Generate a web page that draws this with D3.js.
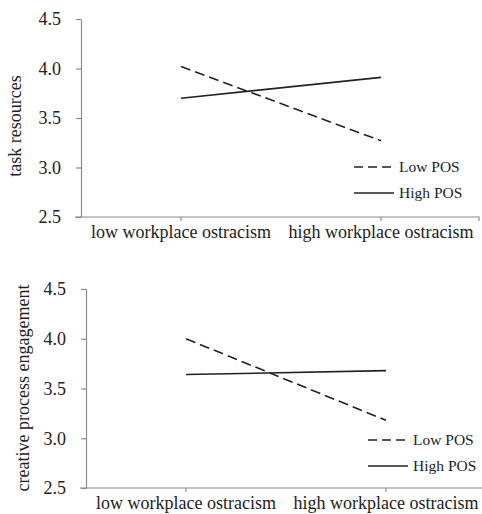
<!DOCTYPE html>
<html>
<head>
<meta charset="utf-8">
<script src="https://cdn.jsdelivr.net/npm/d3@7"></script>
<style>
  body { margin: 0; background: #fff; }
  .axis path, .axis line { stroke: #8a8a8a; stroke-width: 1.2; }
</style>
</head>
<body>
<script>
// data
var categories = ["low workplace ostracism", "high workplace ostracism"];
var yTicks = [2.5, 3.0, 3.5, 4.0, 4.5];
var seriesNames = ["Low POS", "High POS"];
var taskLow = [4.02, 3.27];
var taskHigh = [3.70, 3.91];
var cpeLow = [4.00, 3.18];
var cpeHigh = [3.64, 3.68];

var FONT = "'Liberation Serif', 'Times New Roman', Times, serif";

var W = 482, H = 514;
var svg = d3.select("body").append("svg")
  .attr("width", W)
  .attr("height", H)
  .attr("font-family", FONT);

function drawPanel(opt) {
  var g = svg.append("g");

  var x = d3.scaleBand().domain(categories).range([opt.left, opt.left + 400]);
  var y = d3.scaleLinear().domain([2.5, 4.5]).range([opt.bottom, opt.top]);

  // y axis
  var yAxis = g.append("g")
    .attr("class", "axis")
    .attr("transform", "translate(" + opt.left + ",0)")
    .call(d3.axisLeft(y).tickValues(yTicks).tickFormat(d3.format(".1f")).tickSize(5).tickSizeOuter(0).tickPadding(15));
  yAxis.attr("font-family", FONT).attr("font-size", 18);
  yAxis.selectAll("text").attr("fill", "#222");

  // x axis, ticks at category centres plus the end tick
  var xAxis = g.append("g")
    .attr("class", "axis")
    .attr("transform", "translate(0," + opt.bottom + ")")
    .call(d3.axisBottom(x).tickSize(4).tickSizeOuter(0).tickPadding(4));
  xAxis.select(".domain").attr("d", "M" + (opt.left - 6) + ",0H" + (opt.left + 398) + "V4");
  xAxis.attr("font-family", FONT).attr("font-size", 18);
  xAxis.selectAll("text").attr("fill", "#222");

  // y label
  g.append("text")
    .attr("transform", "translate(" + opt.labelX + "," + opt.labelY + ") rotate(-90)")
    .attr("text-anchor", "middle")
    .attr("font-size", 18)
    .attr("fill", "#222")
    .text(opt.label);

  var line = d3.line()
    .x(function(d, i) { return x(categories[i]) + x.bandwidth() / 2; })
    .y(function(d) { return y(d); });

  g.append("path")
    .datum(opt.low)
    .attr("d", line)
    .attr("fill", "none")
    .attr("stroke", "#222")
    .attr("stroke-width", 1.6)
    .attr("stroke-dasharray", "10,5");

  g.append("path")
    .datum(opt.high)
    .attr("d", line)
    .attr("fill", "none")
    .attr("stroke", "#222")
    .attr("stroke-width", 1.6);

  // legend
  var leg = g.append("g")
    .attr("transform", "translate(" + opt.legX + "," + opt.legY + ")");
  seriesNames.forEach(function(name, i) {
    var row = leg.append("g").attr("transform", "translate(0," + (i * 26) + ")");
    row.append("line")
      .attr("x1", 0).attr("x2", 40)
      .attr("y1", 0).attr("y2", 0)
      .attr("stroke", "#222")
      .attr("stroke-width", 1.6)
      .attr("stroke-dasharray", i === 0 ? "9,5" : null);
    row.append("text")
      .attr("x", 45)
      .attr("y", 5)
      .attr("font-size", 15.5)
      .attr("fill", "#222")
      .text(name);
  });
}

drawPanel({
  left: 81, top: 19, bottom: 217,
  label: "task resources", labelX: 21, labelY: 126,
  low: taskLow, high: taskHigh,
  legX: 354, legY: 167
});

drawPanel({
  left: 86, top: 289, bottom: 488,
  label: "creative process engagement", labelX: 29, labelY: 388,
  low: cpeLow, high: cpeHigh,
  legX: 368, legY: 440
});
</script>
</body>
</html>
